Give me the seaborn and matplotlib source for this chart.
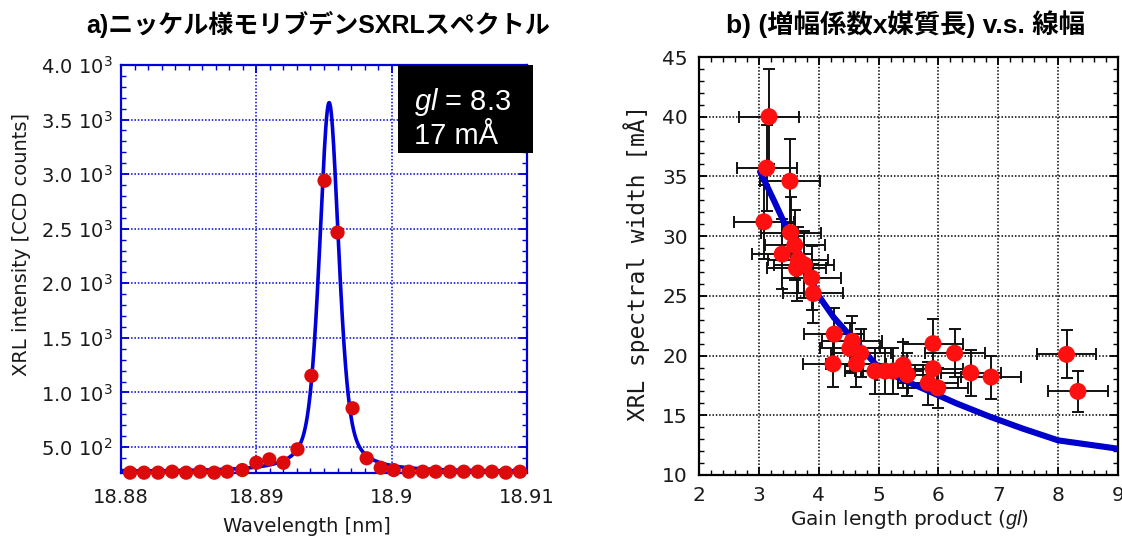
import numpy as np
import pandas as pd
import matplotlib
matplotlib.use("Agg")
import matplotlib.pyplot as plt
from matplotlib.patches import Rectangle
from matplotlib.ticker import MultipleLocator
import seaborn as sns

# ---------------- a) Ni-like Mo SXRL spectrum ----------------
wavelength_nm = [18.88067, 18.88170, 18.88274, 18.88378, 18.88481, 18.88585,
                 18.88689, 18.88785, 18.88896, 18.89000, 18.89096, 18.89200,
                 18.89304, 18.89407, 18.89504, 18.89600, 18.89711, 18.89815,
                 18.89919, 18.90015, 18.90126, 18.90230, 18.90326, 18.90430,
                 18.90533, 18.90637, 18.90741, 18.90844, 18.90948]
intensity_counts = [265, 265, 265, 274, 265, 274, 265, 274, 289, 356, 387, 356,
                    479, 1153, 2940, 2465, 855, 397, 310, 289, 274, 274, 274,
                    274, 274, 274, 274, 265, 274]

# line-profile fit (pseudo-Voigt) and annotation values
gl_label = 8.3
width_label_mA = 17
fit_center_nm = 18.89538
fit_fwhm_nm = width_label_mA * 1e-4      # 17 mÅ -> nm
fit_amplitude = 3380
fit_baseline = 275
fit_lorentz_frac = 0.5

left_yticks = [500, 1000, 1500, 2000, 2500, 3000, 3500, 4000]
left_yticklabels = ["5.0 10$^{2}$", "1.0 10$^{3}$", "1.5 10$^{3}$", "2.0 10$^{3}$",
                    "2.5 10$^{3}$", "3.0 10$^{3}$", "3.5 10$^{3}$", "4.0 10$^{3}$"]
left_xticks = [18.88, 18.89, 18.90, 18.91]
left_xticklabels = ["18.88", "18.89", "18.9", "18.91"]

# ---------------- b) gain-length product vs. line width ----------------
gain_length = [3.17, 3.13, 3.52, 3.085, 3.53, 3.60, 3.39, 3.66, 3.63, 3.76, 3.88,
               3.91, 4.26, 4.24, 4.56, 4.52, 4.70, 4.63, 4.94, 5.11, 5.24, 5.41,
               5.48, 5.91, 5.91, 5.83, 5.99, 6.27, 6.54, 6.88, 8.14, 8.33]
spectral_width = [40.0, 35.7, 34.6, 31.2, 30.3, 29.25, 28.5, 28.0, 27.3, 27.6, 26.5,
                  25.2, 21.8, 19.3, 21.2, 20.6, 20.2, 19.3, 18.7, 18.7, 18.7, 19.2,
                  18.4, 21.0, 18.9, 17.7, 17.3, 20.2, 18.55, 18.2, 20.1, 17.0]
gain_length_err = [0.5] * 32
width_err = [4.0, 3.6, 3.5, 3.1, 3.0, 2.9, 2.9, 2.8, 2.7, 2.8, 2.7, 2.5, 2.2, 1.9,
             2.1, 2.1, 2.0, 1.9, 1.9, 1.9, 1.9, 1.9, 1.8, 2.1, 1.9, 1.8, 1.7, 2.0,
             1.9, 1.8, 2.0, 1.7]

model_gl = [3.02, 3.25, 3.5, 3.75, 4.0, 4.25, 4.5, 4.75, 5.0, 5.35, 5.85, 6.3,
            6.85, 7.4, 8.0, 9.0]
model_width = [35.4, 33.0, 30.3, 27.8, 25.0, 23.2, 21.8, 20.4, 19.0, 18.1, 17.0,
               16.0, 14.9, 13.9, 12.9, 12.2]

# ---------------- style ----------------
sns.set_style("ticks")
plt.rcParams["font.family"] = ["DejaVu Sans", "Noto Sans CJK JP"]
plt.rcParams["mathtext.fontset"] = "custom"
plt.rcParams["mathtext.rm"] = "Liberation Sans"
plt.rcParams["mathtext.it"] = "Liberation Sans:italic"
plt.rcParams["mathtext.default"] = "regular"

BLUE = "#0000d8"
RED_A = "#dc0a0a"
RED_B = "#ff1010"
TXT = "#1a1a1a"
TITLE_FONT = ["Liberation Sans", "Noto Sans CJK JP"]

fig = plt.figure(figsize=(11.22, 5.37), dpi=100)

# ---------- panel a ----------
axa = fig.add_axes([121 / 1122, 1 - 473 / 537, 406 / 1122, 408 / 537])
xs = np.linspace(18.88, 18.91, 1500)
hw = fit_fwhm_nm / 2
sig = fit_fwhm_nm / (2 * np.sqrt(2 * np.log(2)))
lor = 1 / (1 + ((xs - fit_center_nm) / hw) ** 2)
gau = np.exp(-(xs - fit_center_nm) ** 2 / (2 * sig ** 2))
fit_vals = fit_baseline + fit_amplitude * (fit_lorentz_frac * lor + (1 - fit_lorentz_frac) * gau)
fit_df = pd.DataFrame({"wl": xs, "I": fit_vals})
sns.lineplot(data=fit_df, x="wl", y="I", ax=axa, color=BLUE, lw=2.6,
             estimator=None, sort=False, zorder=3)
pts_df = pd.DataFrame({"wl": wavelength_nm, "I": intensity_counts})
sns.scatterplot(data=pts_df, x="wl", y="I", ax=axa, color=RED_A, s=105,
                edgecolor="none", zorder=4, clip_on=False)

axa.set_xlim(18.88, 18.91)
axa.set_ylim(262, 4000)
axa.set_xticks(left_xticks)
axa.set_xticklabels(left_xticklabels)
axa.set_yticks(left_yticks)
axa.set_yticklabels(left_yticklabels)
axa.xaxis.set_minor_locator(MultipleLocator(0.001))
axa.yaxis.set_minor_locator(MultipleLocator(100))
axa.set_xlabel("")
axa.set_ylabel("")
axa.grid(True, which="major", color=BLUE, ls=(0, (1, 1.2)), lw=1.1)
axa.set_axisbelow(True)
for s in axa.spines.values():
    s.set_color(BLUE)
    s.set_linewidth(1.6)
axa.tick_params(which="both", direction="in", top=True, right=True,
                color=BLUE, labelcolor=TXT, labelsize=14)
axa.tick_params(which="major", length=6, width=1.3)
axa.tick_params(which="minor", length=3.5, width=1.0)
axa.tick_params(axis="x", pad=11)
axa.tick_params(axis="y", pad=6)

fig.text(22 / 1122, 1 - 244 / 537, "XRL intensity [CCD counts]", rotation=90,
         ha="center", va="center", fontsize=14, color=TXT)
fig.text(307 / 1122, 1 - 532 / 537, "Wavelength [nm]", ha="center",
         va="baseline", fontsize=14, color=TXT)

# annotation box
fig.patches.append(Rectangle((398 / 1122, 1 - 153 / 537), 135 / 1122, 88 / 537,
                             transform=fig.transFigure, facecolor="black",
                             edgecolor="none", zorder=5))
fig.text(414 / 1122, 1 - 110 / 537, f"$\\mathit{{gl}}$ = {gl_label}", color="white",
         fontsize=21, family="Liberation Sans", va="baseline", zorder=6)
fig.text(414 / 1122, 1 - 144 / 537, f"{width_label_mA} mÅ", color="white",
         fontsize=21, family="Liberation Sans", va="baseline", zorder=6)

fig.text(318 / 1122, 1 - 24 / 537, "a)ニッケル様モリブデンSXRLスペクトル",
         ha="center", va="center", fontsize=18, fontweight="bold",
         family=TITLE_FONT, color="black")

# ---------- panel b ----------
axb = fig.add_axes([699 / 1122, 1 - 475 / 537, 419 / 1122, 418 / 537])
axb.errorbar(gain_length, spectral_width, xerr=gain_length_err, yerr=width_err,
             fmt="none", ecolor="#111111", elinewidth=1.4, capsize=4,
             capthick=1.4, zorder=2)
model_df = pd.DataFrame({"gl": model_gl, "w": model_width})
sns.lineplot(data=model_df, x="gl", y="w", ax=axb, color="#0000cc", lw=4.4,
             estimator=None, sort=False, zorder=3)
data_df = pd.DataFrame({"gl": gain_length, "w": spectral_width})
sns.scatterplot(data=data_df, x="gl", y="w", ax=axb, color=RED_B, s=150,
                edgecolor="none", zorder=4)

axb.set_xlim(2, 9)
axb.set_ylim(10, 45)
axb.xaxis.set_major_locator(MultipleLocator(1))
axb.xaxis.set_minor_locator(MultipleLocator(0.2))
axb.yaxis.set_major_locator(MultipleLocator(5))
axb.yaxis.set_minor_locator(MultipleLocator(1))
axb.set_xlabel("")
axb.set_ylabel("")
axb.grid(True, which="major", color="black", ls=(0, (1, 1.2)), lw=1.1)
axb.set_axisbelow(True)
for s in axb.spines.values():
    s.set_color("black")
    s.set_linewidth(1.6)
axb.tick_params(which="both", direction="in", top=True, right=True,
                color="black", labelcolor=TXT, labelsize=14.5)
axb.tick_params(which="major", length=6, width=1.3)
axb.tick_params(which="minor", length=3.5, width=1.0)
axb.tick_params(axis="x", pad=8)
axb.tick_params(axis="y", pad=8)

fig.text(637 / 1122, 1 - 263 / 537, "XRL spectral width [mÅ]", rotation=90,
         ha="center", va="center", fontsize=16.5, family="DejaVu Sans Mono",
         color=TXT)
fig.text(910 / 1122, 1 - 525 / 537, "Gain length product ($\\mathit{gl}$)",
         ha="center", va="baseline", fontsize=14.5, color=TXT)

fig.text(906 / 1122, 1 - 24 / 537, "b) (増幅係数x媒質長) v.s. 線幅",
         ha="center", va="center", fontsize=19, fontweight="bold",
         family=TITLE_FONT, color="black")

fig.savefig("out.png", dpi=100)
